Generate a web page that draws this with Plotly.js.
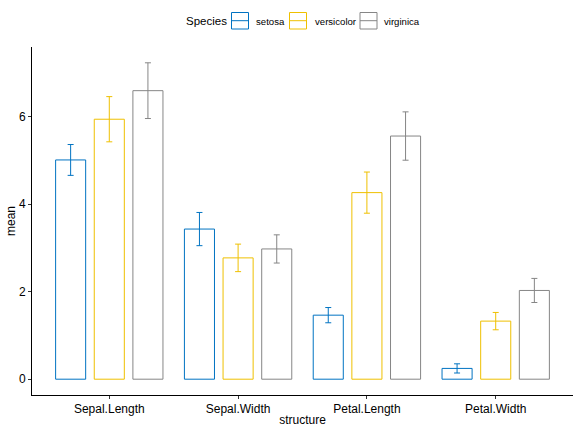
<!DOCTYPE html>
<html><head><meta charset="utf-8">
<script src="https://cdn.plot.ly/plotly-3.0.1.min.js"></script>
<style>html,body{margin:0;padding:0;background:#fff}</style>
</head><body>
<div id="chart" style="width:576px;height:432px"></div>
<script>
const structures = ["Sepal.Length", "Sepal.Width", "Petal.Length", "Petal.Width"];
const species = ["setosa", "versicolor", "virginica"];
const colors = ["#0073C2", "#EFC000", "#868686"];
const setosaMean = [5.006, 3.428, 1.462, 0.246];
const setosaSd = [0.352, 0.379, 0.174, 0.105];
const versicolorMean = [5.936, 2.770, 4.260, 1.326];
const versicolorSd = [0.516, 0.314, 0.470, 0.198];
const virginicaMean = [6.588, 2.974, 5.552, 2.026];
const virginicaSd = [0.636, 0.322, 0.552, 0.275];
const yTicks = [0, 2, 4, 6];

const means = [setosaMean, versicolorMean, virginicaMean];
const sds = [setosaSd, versicolorSd, virginicaSd];
const font = "Arial, 'Liberation Sans', sans-serif";

const W = 576, H = 432;
const M = {l: 32, r: 3, t: 47, b: 37};
const pw = W - M.l - M.r, ph = H - M.t - M.b;
const px = v => (v - M.l) / pw;
const py = v => (H - M.b - v) / ph;

const traces = species.map((s, i) => ({
  type: "bar",
  name: s,
  x: structures,
  y: means[i],
  marker: {color: "rgba(255,255,255,1)", line: {color: colors[i], width: 1}},
  error_y: {type: "data", array: sds[i], visible: true, color: colors[i], thickness: 1, width: 3},
  hoverinfo: "skip"
}));

// manual ggplot-style legend
const keyX = [231.5, 289.5, 360];
const textX = [255, 314, 383];
const shapes = [];
const annotations = [{
  xref: "paper", yref: "paper", x: px(183.5), y: py(21.5),
  xanchor: "left", yanchor: "middle", showarrow: false,
  text: "Species", font: {size: 11.5, color: "#000"}
}];
species.forEach((s, i) => {
  shapes.push({
    type: "rect", xref: "paper", yref: "paper",
    x0: px(keyX[i]), x1: px(keyX[i] + 17), y0: py(29), y1: py(12.5),
    line: {color: colors[i], width: 1}, fillcolor: "#fff"
  });
  shapes.push({
    type: "line", xref: "paper", yref: "paper",
    x0: px(keyX[i]), x1: px(keyX[i] + 17), y0: py(20.7), y1: py(20.7),
    line: {color: colors[i], width: 1}
  });
  annotations.push({
    xref: "paper", yref: "paper", x: px(textX[i] - 1), y: py(21),
    xanchor: "left", yanchor: "middle", showarrow: false,
    text: s, font: {size: 9.6, color: "#000"}
  });
});

const layout = {
  width: W, height: H,
  margin: M,
  paper_bgcolor: "#fff", plot_bgcolor: "#fff",
  font: {family: font, size: 12, color: "#000"},
  barmode: "group",
  bargap: 0.1,
  bargroupgap: 0.222,
  showlegend: false,
  shapes: shapes,
  annotations: annotations,
  xaxis: {
    type: "category",
    range: [-0.6, 3.6],
    showline: true, linecolor: "#000", linewidth: 1,
    ticks: "outside", ticklen: 3, tickcolor: "#333", tickwidth: 1,
    tickfont: {size: 12, color: "#000"},
    showgrid: false, zeroline: false,
    title: {text: "structure", font: {size: 12, color: "#000"}, standoff: 0}
  },
  yaxis: {
    range: [-0.361, 7.585],
    tickvals: yTicks, ticktext: yTicks.map(String),
    showline: true, linecolor: "#000", linewidth: 1,
    ticks: "outside", ticklen: 3, tickcolor: "#333", tickwidth: 1,
    tickfont: {size: 12, color: "#000"},
    showgrid: false, zeroline: false,
    title: {text: "mean", font: {size: 12, color: "#000"}, standoff: 0}
  }
};

Plotly.newPlot("chart", traces, layout, {staticPlot: true, displayModeBar: false});
</script>
</body></html>
